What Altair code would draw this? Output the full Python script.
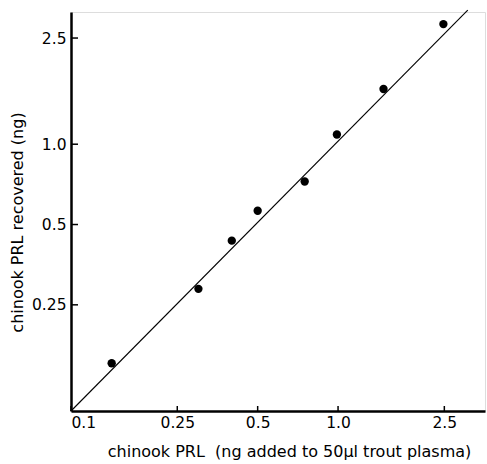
import altair as alt
import pandas as pd

x_added = [0.142, 0.30, 0.40, 0.50, 0.75, 0.99, 1.48, 2.48]
y_recovered = [0.151, 0.287, 0.435, 0.563, 0.725, 1.087, 1.61, 2.82]
fit_x = [0.1, 3.06]
fit_y = [0.1, 3.18]
x_ticks = [0.1, 0.25, 0.5, 1.0, 2.5]
y_ticks = [0.25, 0.5, 1.0, 2.5]

pts = pd.DataFrame({"x": x_added, "y": y_recovered})
fit = pd.DataFrame({"x": fit_x, "y": fit_y})
xt = pd.DataFrame({"v": x_ticks})
yt = pd.DataFrame({"v": y_ticks})

FONT = "DejaVu Sans"
xscale = alt.Scale(type="log", domain=[0.1, 3.55])
yscale = alt.Scale(type="log", domain=[0.1, 3.13])
label_expr = "datum.value == 1 ? '1.0' : '' + datum.value"

W, H = 414, 399

xaxis = alt.Axis(
    values=x_ticks, labelExpr=label_expr, ticks=False, grid=False,
    domainColor="black", domainWidth=2.5, labelColor="black",
    labelFont=FONT, labelFontSize=15.5, labelPadding=4,
    title="chinook PRL\u00a0\u00a0(ng added to 50\u00b5l trout plasma)",
    titleFont=FONT, titleFontSize=16, titleFontWeight="normal", titleColor="black",
    titleX=218, titleY=45, titleBaseline="alphabetic", titleAlign="center",
)
yaxis = alt.Axis(
    values=y_ticks, labelExpr=label_expr, ticks=False, grid=False,
    domainColor="black", domainWidth=2.5, labelColor="black",
    labelFont=FONT, labelFontSize=15.5, labelPadding=5,
    title="chinook PRL recovered (ng)",
    titleFont=FONT, titleFontSize=16, titleFontWeight="normal", titleColor="black",
    titleX=-54, titleY=210, titleBaseline="middle", titleAlign="center", titleAngle=270,
)

points = alt.Chart(pts).mark_circle(size=70, color="black", opacity=1).encode(
    x=alt.X("x:Q", scale=xscale, axis=xaxis),
    y=alt.Y("y:Q", scale=yscale, axis=yaxis),
)
line = alt.Chart(fit).mark_line(color="black", strokeWidth=1.1).encode(
    x=alt.X("x:Q", scale=xscale),
    y=alt.Y("y:Q", scale=yscale),
)
yticks = alt.Chart(yt).mark_rule(color="black", strokeWidth=1.5).encode(
    y=alt.Y("v:Q", scale=yscale),
    x=alt.value(0),
    x2=alt.value(7),
)
xticks = alt.Chart(xt).mark_rule(color="black", strokeWidth=1.5).encode(
    x=alt.X("v:Q", scale=xscale),
    y=alt.value(H),
    y2=alt.value(H - 5),
)

chart = alt.layer(line, points, yticks, xticks).properties(
    width=W, height=H,
    autosize=alt.AutoSizeParams(type="none"),
    padding={"left": 71, "top": 12, "right": 2, "bottom": 53},
).configure_view(stroke=None).configure(background="white")

chart.save("out.html", embed_options={"renderer": "svg", "actions": False})
